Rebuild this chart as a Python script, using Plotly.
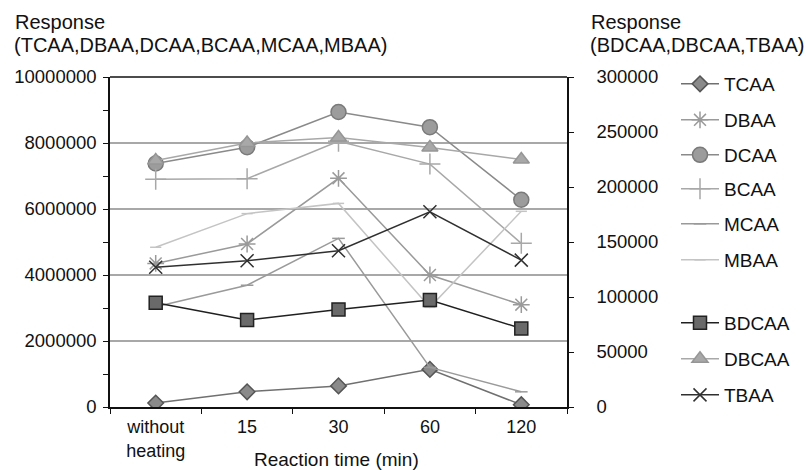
import plotly.graph_objects as go

categories = ["without<br>heating", "15", "30", "60", "120"]

TCAA = [120000, 460000, 640000, 1140000, 70000]
DBAA = [4350000, 4940000, 6930000, 4000000, 3100000]
DCAA = [7380000, 7870000, 8940000, 8480000, 6280000]
BCAA = [6900000, 6920000, 8050000, 7360000, 4960000]
MCAA = [3040000, 3690000, 5110000, 1200000, 460000]
MBAA = [4840000, 5860000, 6170000, 3020000, 5930000]

BDCAA = [94700, 79000, 88700, 97200, 71400]
DBCAA = [224000, 240000, 245000, 236000, 225000]
TBAA = [127000, 133000, 142000, 177500, 133500]

FONT = "Liberation Sans, Arial, sans-serif"

# name, values, axis, line color, marker symbol, marker size, marker fill, marker outline
series = [
    ("TCAA", TCAA, "y", "#707070", "diamond", 12, "#8a8a8a", "#555555"),
    ("DBAA", DBAA, "y", "#9a9a9a", "asterisk-open", 14, "#9a9a9a", "#9a9a9a"),
    ("DCAA", DCAA, "y", "#8a8a8a", "circle", 15, "#9c9c9c", "#7a7a7a"),
    ("BCAA", BCAA, "y", "#a8a8a8", "cross-thin-open", 15, "#a8a8a8", "#a8a8a8"),
    ("MCAA", MCAA, "y", "#9a9a9a", "line-ew-open", 9, "#9a9a9a", "#9a9a9a"),
    ("MBAA", MBAA, "y", "#c4c4c4", "line-ew-open", 8, "#c4c4c4", "#c4c4c4"),
    ("BDCAA", BDCAA, "y2", "#202020", "square", 13, "#6a6a6a", "#222222"),
    ("DBCAA", DBCAA, "y2", "#a8a8a8", "triangle-up", 14, "#a8a8a8", "#969696"),
    ("TBAA", TBAA, "y2", "#303030", "x-thin-open", 13, "#303030", "#303030"),
]

legend_px_y = [84, 120, 155, 189, 224, 260, 323, 359, 395]

W, H = 812, 470
plot_left, plot_right = 110, 566.7
plot_top, plot_bottom = 77.3, 406.7
pw = plot_right - plot_left
ph = plot_bottom - plot_top

fig = go.Figure()
layout_legends = {}
for i, (name, vals, ax, lc, sym, msz, mfill, mline) in enumerate(series):
    lname = "legend" if i == 0 else f"legend{i+1}"
    fig.add_trace(go.Scatter(
        x=categories, y=vals, name=name, yaxis=ax, mode="lines+markers",
        line=dict(color=lc, width=1.5),
        marker=dict(symbol=sym, size=msz, color=mfill,
                    line=dict(color=mline, width=1.5)),
        legend=lname,
    ))
    layout_legends[lname] = dict(
        xref="container", yref="container",
        x=676 / W, xanchor="left",
        y=1 - legend_px_y[i] / H, yanchor="middle",
        font=dict(family=FONT, size=19, color="#111"),
        bgcolor="rgba(0,0,0,0)", borderwidth=0, itemwidth=38,
        tracegroupgap=0,
    )

fig.update_layout(
    width=W, height=H,
    margin=dict(l=plot_left, r=W - plot_right, t=plot_top, b=H - plot_bottom),
    paper_bgcolor="white", plot_bgcolor="white",
    font=dict(family=FONT, size=18, color="#111"),
    showlegend=True,
    xaxis=dict(
        type="category", range=[-0.5, 4.5], automargin=False,
        showline=True, linecolor="#111", linewidth=1.5,
        ticks="outside", tickson="boundaries", ticklen=5, tickcolor="#111",
        tickwidth=1.2, showgrid=False, ticklabelstandoff=3,
        tickfont=dict(family=FONT, size=18, color="#111"),
    ),
    yaxis=dict(
        range=[0, 10000000], dtick=2000000, tickformat="d", automargin=False,
        showline=True, linecolor="#111", linewidth=1.5,
        ticks="outside", ticklen=5, tickcolor="#111", tickwidth=1.2,
        minor=dict(dtick=1000000, ticks="outside", ticklen=5,
                   tickcolor="#111", tickwidth=1.2, showgrid=False),
        showgrid=True, gridcolor="#a8a8a8", gridwidth=1.5,
        zeroline=False, ticklabelstandoff=3,
        tickfont=dict(family=FONT, size=18.5, color="#111"),
    ),
    yaxis2=dict(
        overlaying="y", side="right", anchor="x", automargin=False,
        range=[0, 300000], dtick=50000, tickformat="d",
        showline=True, linecolor="#111", linewidth=1.5,
        ticks="outside", ticklen=5, tickcolor="#111", tickwidth=1.2,
        showgrid=False, zeroline=False, ticklabelstandoff=19,
        tickfont=dict(family=FONT, size=18.5, color="#111"),
    ),
    shapes=[dict(type="line", xref="paper", yref="paper", x0=0, x1=1, y0=1, y1=1,
                 line=dict(color="#111", width=1.5), layer="above")],
    annotations=[
        dict(text="Response", xref="paper", yref="paper",
             x=(13 - plot_left) / pw, y=(plot_bottom - 22) / ph,
             xanchor="left", yanchor="middle", showarrow=False,
             font=dict(family=FONT, size=20, color="#111")),
        dict(text="(TCAA,DBAA,DCAA,BCAA,MCAA,MBAA)", xref="paper", yref="paper",
             x=(12 - plot_left) / pw, y=(plot_bottom - 45) / ph,
             xanchor="left", yanchor="middle", showarrow=False,
             font=dict(family=FONT, size=20, color="#111")),
        dict(text="Response", xref="paper", yref="paper",
             x=(589 - plot_left) / pw, y=(plot_bottom - 22) / ph,
             xanchor="left", yanchor="middle", showarrow=False,
             font=dict(family=FONT, size=20, color="#111")),
        dict(text="(BDCAA,DBCAA,TBAA)", xref="paper", yref="paper",
             x=(588 - plot_left) / pw, y=(plot_bottom - 45) / ph,
             xanchor="left", yanchor="middle", showarrow=False,
             font=dict(family=FONT, size=20, color="#111")),
        dict(text="Reaction time (min)", xref="paper", yref="paper",
             x=(336 - plot_left) / pw, y=(plot_bottom - 459) / ph,
             xanchor="center", yanchor="middle", showarrow=False,
             font=dict(family=FONT, size=19, color="#111")),
    ],
    **layout_legends,
)

fig.write_html(
    "out.html",
    config={"displayModeBar": False},
    post_script="document.body.style.margin='0';document.body.style.overflow='hidden';",
)
